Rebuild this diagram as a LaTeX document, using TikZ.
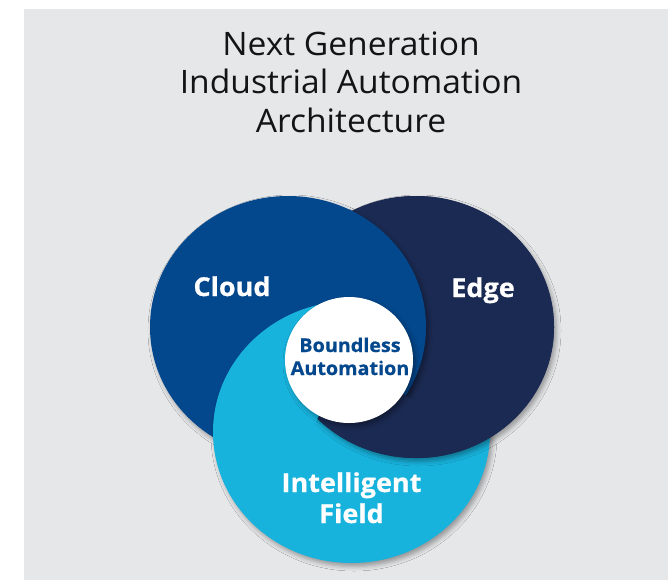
\documentclass[tikz,border=0pt]{standalone}
\usepackage{fontspec}
\setmainfont{Open Sans}[FakeStretch=1.04, BoldFeatures={FakeBold=0.6}]
\usepackage{tikz}
\usetikzlibrary{shadows.blur}
\definecolor{panelgray}{HTML}{E6E7E9}
\definecolor{cloudblue}{HTML}{03478D}
\definecolor{edgenavy}{HTML}{1B2A52}
\definecolor{fieldcyan}{HTML}{18B3DD}
\definecolor{titleblack}{HTML}{141414}

\begin{document}
\begin{tikzpicture}[x=1pt, y=-1pt,
  disc/.style={blur shadow={shadow xshift=2.5pt, shadow yshift=-3.5pt,
    shadow blur radius=4.5pt, shadow opacity=35}},
  heading/.style={anchor=base, text=titleblack, inner sep=0pt,
    font=\fontsize{32.3}{38}\selectfont},
  lbl/.style={anchor=base, text=white, inner sep=0pt,
    font=\bfseries\fontsize{26}{30}\selectfont},
  core/.style={anchor=base, text=cloudblue, inner sep=0pt,
    font=\bfseries\fontsize{19}{22}\selectfont}
]
  \useasboundingbox (0,0) rectangle (668,581);
  \fill[white] (0,0) rectangle (668,581);
  \fill[panelgray] (24,9) rectangle (668,580);

  % title
  \node[heading] (t1) at (351,55) {Next Generation};
  \node[heading] (t2) at (351,93.5) {Industrial Automation};
  \node[heading] (t3) at (351,132) {Architecture};

  % the three discs, woven round the centre
  \fill[edgenavy, disc] (416,327) ellipse [x radius=138, y radius=131];
  \fill[cloudblue, disc] (288,327) ellipse [x radius=138, y radius=131];
  \fill[fieldcyan, disc] (351.5,432) ellipse [x radius=138.5, y radius=131];
  % edge over field below the centre
  \begin{scope}
    \clip (351.5,432) ellipse [x radius=138.5, y radius=131];
    \clip (349,360) -- (225,592) -- (700,592) -- (700,150) -- (349,150) -- cycle;
    \fill[edgenavy, disc] (416,327) ellipse [x radius=138, y radius=131];
  \end{scope}
  \begin{scope}
    \clip (349,360) -- (225,592) -- (700,592) -- (700,150) -- (349,150) -- cycle;
    \fill[edgenavy] (416,327) ellipse [x radius=138, y radius=131];
  \end{scope}
  % cloud over both top right
  \begin{scope}
    \clip (349,360) -- (349,150) -- (700,150) -- (685,570) -- cycle;
    \fill[cloudblue, disc] (288,327) ellipse [x radius=138, y radius=131];
  \end{scope}
  \fill[white, disc] (349,360) ellipse [x radius=64, y radius=63];

  \node[lbl] (cloud) at (232,296) {Cloud};
  \node[lbl] (edge) at (483,297) {Edge};
  \node[lbl] (field1) at (351.5,492) {Intelligent};
  \node[lbl] (field2) at (351.5,523) {Field};
  \node[core] (core1) at (350,352) {Boundless};
  \node[core] (core2) at (350,375) {Automation};
\end{tikzpicture}
\end{document}
